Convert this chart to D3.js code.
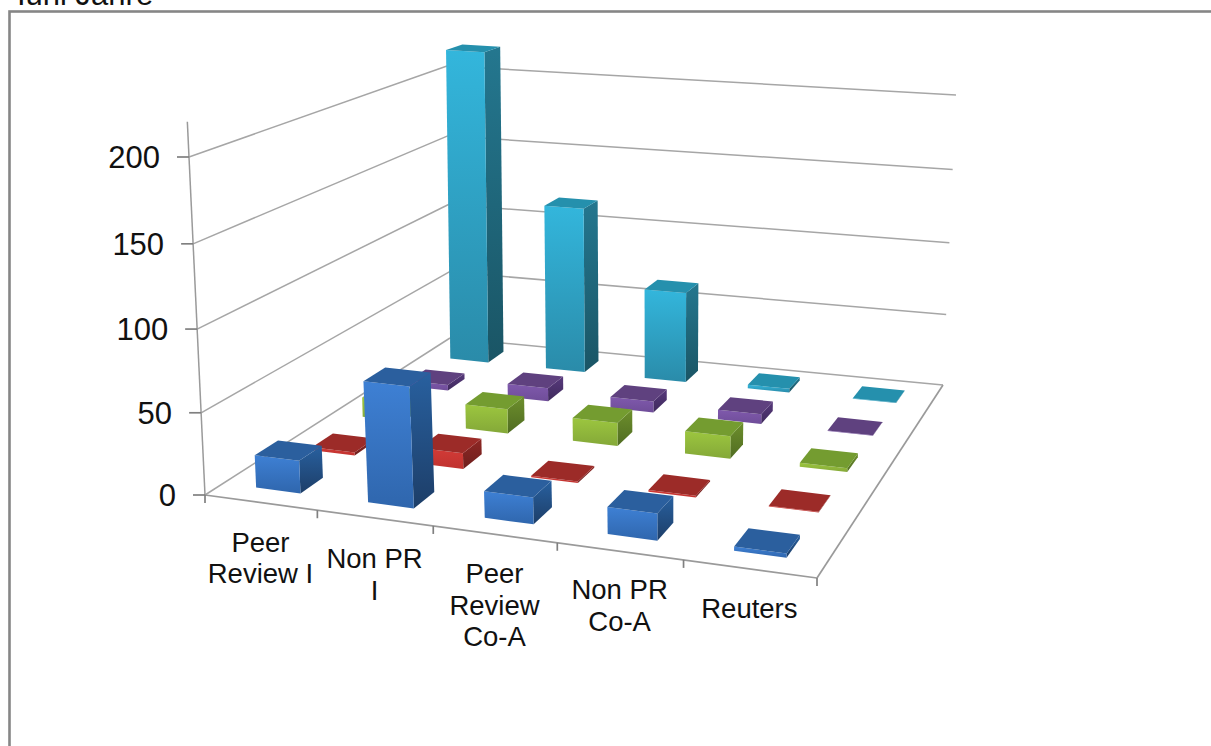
<!DOCTYPE html>
<html><head><meta charset="utf-8">
<script src="https://cdn.jsdelivr.net/npm/d3@7"></script>
<style>html,body{margin:0;padding:0;background:#fff;overflow:hidden}svg{display:block}text{font-family:"Liberation Sans",Arial,sans-serif;fill:#111}</style>
</head><body><div id="c"></div>
<script>
const categories=[["Peer","Review I"],["Non PR","I"],["Peer","Review","Co-A"],["Non PR","Co-A"],["Reuters"]];
const seriesNames=["S1","S2","S3","S4","S5"];
const s1=[20,73,16,16,2.5];
const s2=[2,10,1,1,0.4];
const s3=[13,16,15,14.5,2.5];
const s4=[4,9,7.5,6.5,0.3];
const s5=[219,116,63,2.5,0.3];
const allSeries=[s1,s2,s3,s4,s5];
const yTicks=[0,50,100,150,200];
const yAxisMax=220;
const palette=[
 {f0:"#3e80d4",f1:"#2f66ad",s0:"#28609f",s1:"#1d3e68",t:"#2b5f9e"},
 {f0:"#d23b37",f1:"#c0322f",s0:"#8e2724",s1:"#6e1f1d",t:"#9c2b28"},
 {f0:"#9cc63f",f1:"#84a838",s0:"#6d8f2c",s1:"#506c22",t:"#749c30"},
 {f0:"#7f59ac",f1:"#6f4d99",s0:"#57397c",s1:"#3f2a5c",t:"#5f417f"},
 {f0:"#33b6dc",f1:"#2a8ba9",s0:"#24778f",s1:"#1a5565",t:"#2590ad"}];

function homography(c){
 const [p0,p1,p2,p3]=c;
 const dx1=p1[0]-p2[0],dx2=p3[0]-p2[0],sx=p0[0]-p1[0]+p2[0]-p3[0];
 const dy1=p1[1]-p2[1],dy2=p3[1]-p2[1],sy=p0[1]-p1[1]+p2[1]-p3[1];
 const d=dx1*dy2-dx2*dy1;
 const g=(sx*dy2-dx2*sy)/d,h=(dx1*sy-sx*dy1)/d;
 const a=p1[0]-p0[0]+g*p1[0],b=p3[0]-p0[0]+h*p3[0];
 const e=p1[1]-p0[1]+g*p1[1],f=p3[1]-p0[1]+h*p3[1];
 return (u,v)=>{const w=g*u+h*v+1;return[(a*u+b*v+p0[0])/w,(e*u+f*v+p0[1])/w];};
}
const floor=homography([[205,495],[817,578],[943,385],[450,338]]);
const ceil=homography([[189,157],[828,213],[956,95],[447,66]]);
const uScale=d3.scaleLinear().domain([0,1,2,3,4,5]).range([0,.2036,.4034,.6066,.803,1]);
const vScale=d3.scaleLinear().domain([0,seriesNames.length]).range([0,1]);
const hScale=d3.scaleLinear().domain([0,200]).range([0,1]);
const K=0.037;
function P(c,s,val){
 const u=uScale(c),v=vScale(s),t=hScale(val);
 const a=floor(u,v),b=ceil(u,v),k=t/(1+K*(1-t));
 return[a[0]+(b[0]-a[0])*k,a[1]+(b[1]-a[1])*k];
}
const W=1211,H=746;
const svg=d3.select("#c").append("svg").attr("width",W).attr("height",H);
const defs=svg.append("defs");
palette.forEach((p,i)=>{
 [["f",p.f0,p.f1],["s",p.s0,p.s1]].forEach(([n,a,b])=>{
  const g=defs.append("linearGradient").attr("id",n+i).attr("x1",0).attr("y1",0).attr("x2",0).attr("y2",1);
  g.append("stop").attr("offset",0).attr("stop-color",a);
  g.append("stop").attr("offset",1).attr("stop-color",b);
 });
});
svg.append("text").attr("x",17).attr("y",5).attr("font-size",31).text("Iuni Jahre");
svg.append("rect").attr("x",9.5).attr("y",11.5).attr("width",1300).attr("height",900).attr("fill","#fff").attr("stroke","#868686").attr("stroke-width",2.6);

const gridC="#a6a6a6";
const line=(a,b,c=gridC,w=1.5)=>svg.append("line").attr("x1",a[0]).attr("y1",a[1]).attr("x2",b[0]).attr("y2",b[1]).attr("stroke",c).attr("stroke-width",w);
const nC=categories.length,nS=seriesNames.length;
yTicks.forEach(t=>{
 if(t>0){line(P(0,0,t),P(0,nS,t));line(P(0,nS,t),P(nC,nS,t));}
});
line(P(0,0,0),P(0,nS,0));line(P(0,nS,0),P(nC,nS,0));
line(P(nC,nS,0),P(nC,0,0),"#9a9a9a",1.7);line(P(0,0,0),P(nC,0,0),"#9a9a9a",1.7);
line(P(0,0,0),P(0,0,yAxisMax),"#9a9a9a",1.5);
yTicks.forEach(t=>{
 const p=P(0,0,t);
 line([p[0]-12,p[1]],p,"#808080",1.7);
 svg.append("text").attr("x",p[0]-29).attr("y",p[1]+11).attr("text-anchor","end").attr("font-size",31).text(t);
});
d3.range(nC+1).forEach(i=>{const p=P(i,0,0);line(p,[p[0],p[1]+8],"#808080",1.7);});
const labelDy=[0,1,0,-1,0];
categories.forEach((lines,i)=>{
 const p=P(i+.5,0,0);
 const t=svg.append("text").attr("text-anchor","middle").attr("font-size",27.5);
 lines.forEach((l,k)=>t.append("tspan").attr("x",p[0]).attr("y",p[1]+49+labelDy[i]+k*31.5).text(l));
});
const barW=0.40,barD=0.40;
const order=[];
for(let s=nS-1;s>=0;s--)for(let c=nC-1;c>=0;c--)order.push([c,s]);
const poly=(pts,fill)=>svg.append("polygon").attr("points",pts.map(p=>p.map(v=>v.toFixed(2)).join(",")).join(" ")).attr("fill",fill);
order.forEach(([c,s])=>{
 const v=allSeries[s][c];
 const c0=c+.5-barW/2,c1=c+.5+barW/2,s0=s+.5-barD/2,s1_=s+.5+barD/2;
 const g=palette[s];
 poly([P(c1,s0,v),P(c1,s1_,v),P(c1,s1_,0),P(c1,s0,0)],`url(#s${s})`);
 poly([P(c0,s0,v),P(c1,s0,v),P(c1,s0,0),P(c0,s0,0)],`url(#f${s})`);
 poly([P(c0,s0,v),P(c1,s0,v),P(c1,s1_,v),P(c0,s1_,v)],g.t);
});
</script></body></html>
